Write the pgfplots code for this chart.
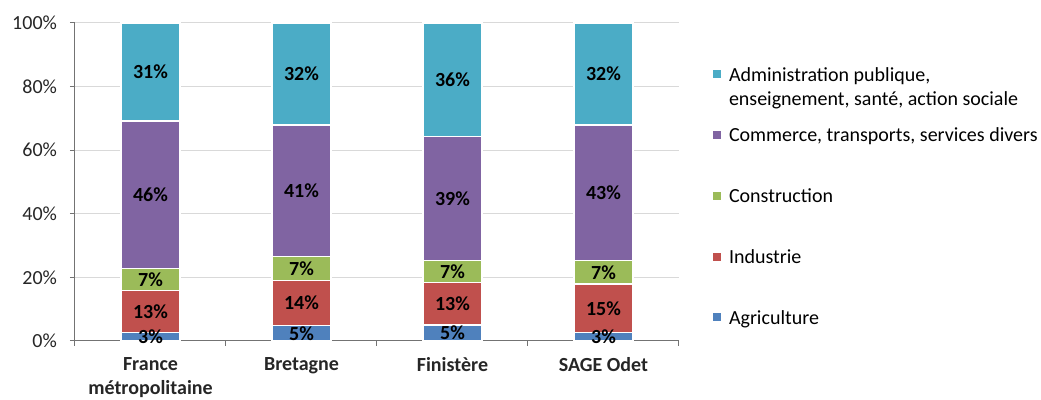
\documentclass[border=0pt]{standalone}
\usepackage{pgfplots}
\usepackage{pgfplotstable}
\pgfplotsset{compat=1.18}
\usepackage{fontspec}
\setmainfont{Carlito}
\definecolor{cAgri}{HTML}{4F81BD}
\definecolor{cInd}{HTML}{C0504D}
\definecolor{cCons}{HTML}{9BBB59}
\definecolor{cComm}{HTML}{8064A2}
\definecolor{cAdm}{HTML}{4BACC6}
\pgfplotstableread{
x y
0 2.6
1 4.8
2 5.0
3 2.6
}\agri
\pgfplotstableread{
x y
0 13.4
1 14.3
2 13.4
3 15.3
}\ind
\pgfplotstableread{
x y
0 6.8
1 7.4
2 7.0
3 7.4
}\cons
\pgfplotstableread{
x y
0 46.4
1 41.4
2 39.0
3 42.6
}\comm
\pgfplotstableread{
x y
0 30.8
1 32.1
2 35.6
3 32.1
}\adm
\pgfplotsset{
  lbl/.style={
  point meta=explicit,
  nodes near coords={\pgfmathprintnumber[fixed,precision=0,assume math mode=true]{\pgfplotspointmeta}\%},
  every node near coord/.append style={anchor=center, font=\bfseries, text=black, inner sep=0pt},
}}
\begin{document}
\begin{tikzpicture}
\useasboundingbox (-37.5pt,-29.5pt) rectangle (483pt,170.5pt);
\begin{axis}[
  at={(0,0)}, anchor=south west,
  scale only axis, width=302pt, height=159pt,
  ybar stacked, bar width=29.5pt,
  xmin=-0.5, xmax=3.5, ymin=0, ymax=100,
  axis lines=left, axis line style={-, draw=black!55, line width=0.5pt},
  xtick={-0.5,0.5,1.5,2.5,3.5}, xticklabels={},
  extra x ticks={0,1,2,3},
  extra x tick labels={{France\\métropolitaine},Bretagne,Finistère,SAGE Odet},
  extra x tick style={tick style={draw=none}, xticklabel style={font=\bfseries, align=center, text=black!85, yshift=-2pt}},
  ytick={0,20,...,100}, yticklabels={0\%,20\%,40\%,60\%,80\%,100\%},
  yticklabel style={text=black!85, xshift=-3pt},
  ymajorgrids, grid style={draw=black!15, line width=0.5pt},
  tick align=outside, major tick length=2.5pt,
  tick style={draw=black!55, line width=0.5pt},
  clip=false,
  every axis plot/.append style={draw=white, line width=0.6pt,
    legend image code/.code={\path[##1, draw=none] (0pt,-2pt) rectangle (4pt,2pt);}},
  legend style={at={(rel axis cs:1.0563,0.870)}, anchor=north west, draw=none, fill=none,
    inner sep=0pt, outer sep=0pt, row sep=20.5pt,
    nodes={inner sep=0pt, anchor=west, text=black},
    /tikz/every odd column/.append style={column sep=4pt}},
  legend cell align=left, reverse legend,
]
\addplot[fill=cAgri, lbl] table[x=x,y=y,meta=y] {\agri};
\addlegendentry{Agriculture\strut}
\addplot[fill=cInd, lbl] table[x=x,y=y,meta=y] {\ind};
\addlegendentry{Industrie\strut}
\addplot[fill=cCons, lbl] table[x=x,y=y,meta=y] {\cons};
\addlegendentry{Construction\strut}
\addplot[fill=cComm, lbl] table[x=x,y=y,meta=y] {\comm};
\addlegendentry{Commerce, transports, services divers\strut}
\addplot[fill=cAdm, lbl] table[x=x,y=y,meta=y] {\adm};
\addlegendentry{\raisebox{0pt}[\height][0pt]{\begin{tabular}[t]{@{}l@{}}Administration publique,\\enseignement, santé, action sociale\end{tabular}}\strut}
\end{axis}
\end{tikzpicture}
\end{document}
